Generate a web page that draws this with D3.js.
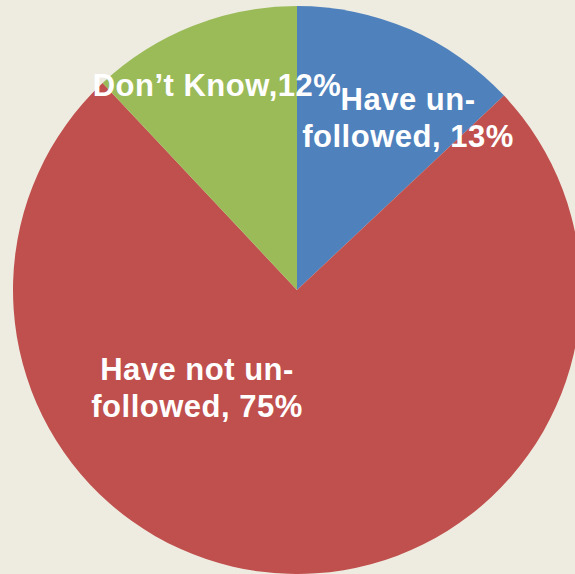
<!DOCTYPE html>
<html>
<head>
<meta charset="utf-8">
<script src="https://cdn.jsdelivr.net/npm/d3@7/dist/d3.min.js"></script>
<style>
  html, body { margin: 0; padding: 0; background: #EEECE1; }
  svg { display: block; }
  .lbl { font-family: "Liberation Sans", Arial, sans-serif; font-weight: bold; font-size: 31px; letter-spacing: 0.5px; fill: #fff; }
</style>
</head>
<body>
<svg id="chart" width="575" height="574"></svg>
<script>
// data
const categories = ["Have un-followed", "Have not un-followed", "Don\u2019t Know"];
const values = [13, 75, 12];
const labelLines = [["Have un-", "followed, 13%"], ["Have not un-", "followed, 75%"], ["Don\u2019t Know,12%"]];
const colors = ["#4F81BD", "#C0504D", "#9BBB59"];

// layout
const width = 575, height = 574;
const cx = 297, cy = 290, radius = 284;
// label anchors relative to pie centre (x centre, first baseline)
const labelPos = [[111, -180], [-100, 90], [-80, -194]];
const lineH = 37;

const svg = d3.select("#chart");
const g = svg.append("g").attr("transform", `translate(${cx},${cy})`);

const pie = d3.pie().sort(null).value(d => d)(values);
const arc = d3.arc().innerRadius(0).outerRadius(radius);

g.selectAll("path.slice")
	.data(pie)
	.join("path")
	.attr("class", "slice")
	.attr("fill", (d, i) => colors[i])
	.attr("d", arc);

g.selectAll("text.lbl")
	.data(pie)
	.join("text")
	.attr("class", "lbl")
	.attr("text-anchor", "middle")
	.each(function (d, i) {
		const t = d3.select(this);
		labelLines[i].forEach((line, j) => {
			t.append("tspan")
				.attr("x", labelPos[i][0])
				.attr("y", labelPos[i][1] + j * lineH)
				.text(line);
		});
	});
</script>
</body>
</html>
